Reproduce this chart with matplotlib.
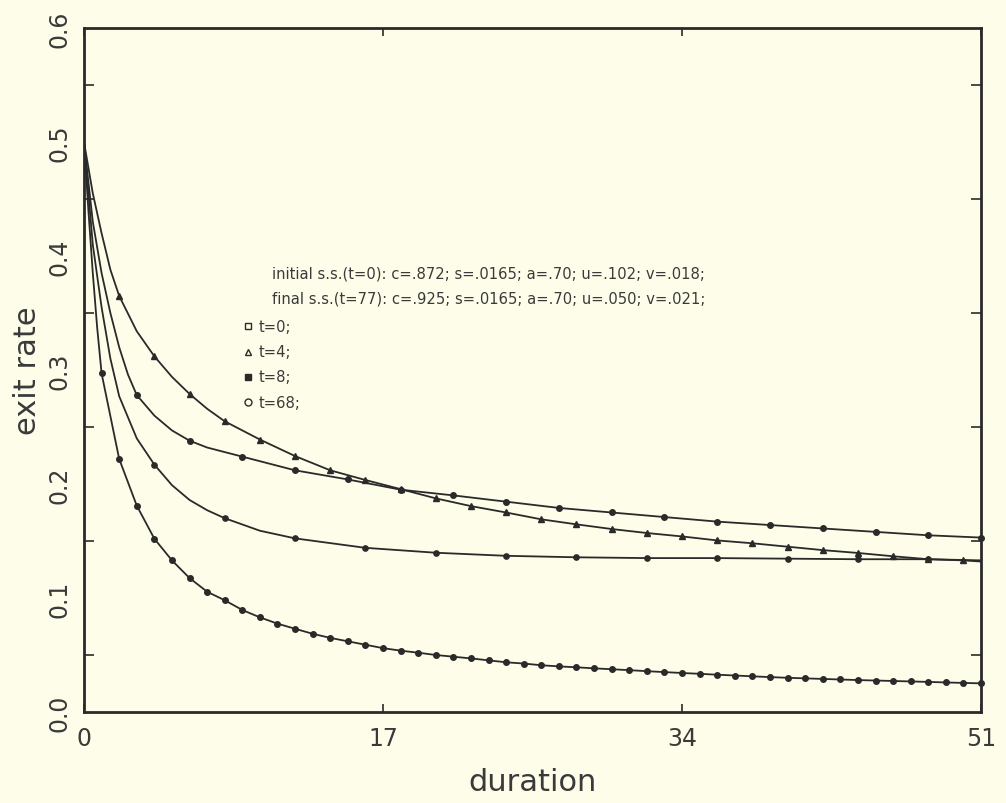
import matplotlib
matplotlib.use("Agg")
import matplotlib.pyplot as plt
from matplotlib.ticker import MultipleLocator, FixedLocator

# ---------------- data ----------------
# curve with triangles (t=4), markers every 2 durations
tri_x = [0, 2, 4, 6, 8, 10, 12, 14, 16, 18, 20, 22, 24, 26, 28, 30, 32, 34, 36,
         38, 40, 42, 44, 46, 48, 50]
tri_y = [0.500, 0.365, 0.312, 0.279, 0.255, 0.239, 0.2245, 0.212, 0.2035, 0.1955,
         0.1874, 0.1806, 0.175, 0.169, 0.1646, 0.1605, 0.157, 0.154, 0.1505,
         0.148, 0.145, 0.142, 0.1395, 0.1366, 0.134, 0.133]
tri_line_x = [0, 0.5, 1, 1.5, 2, 3, 4, 5, 6, 7, 8, 10, 12, 14, 16, 18, 20, 22, 24,
              26, 28, 30, 32, 34, 36, 38, 40, 42, 44, 46, 48, 50, 51]
tri_line_y = [0.500, 0.455, 0.420, 0.388, 0.365, 0.334, 0.312, 0.294, 0.279, 0.266,
              0.255, 0.239, 0.2245, 0.212, 0.2035, 0.1955, 0.1874, 0.1806, 0.175,
              0.169, 0.1646, 0.1605, 0.157, 0.154, 0.1505, 0.148, 0.145, 0.142,
              0.1395, 0.1366, 0.134, 0.133, 0.132]

# curve with markers every 3 durations (t=68)
c68_x = [0, 3, 6, 9, 12, 15, 18, 21, 24, 27, 30, 33, 36, 39, 42, 45, 48, 51]
c68_y = [0.500, 0.278, 0.238, 0.224, 0.212, 0.204, 0.195, 0.190, 0.1845, 0.179,
         0.175, 0.171, 0.167, 0.164, 0.161, 0.158, 0.155, 0.153]
c68_line_x = [0, 0.5, 1, 1.5, 2, 2.5, 3, 4, 5, 6, 7, 8, 9, 12, 15, 18, 21, 24, 27,
              30, 33, 36, 39, 42, 45, 48, 51]
c68_line_y = [0.500, 0.430, 0.385, 0.350, 0.320, 0.296, 0.278, 0.260, 0.247, 0.238,
              0.232, 0.228, 0.224, 0.212, 0.204, 0.195, 0.190, 0.1845, 0.179,
              0.175, 0.171, 0.167, 0.164, 0.161, 0.158, 0.155, 0.153]

# curve with markers every 4 durations (t=8)
c8_x = [0, 4, 8, 12, 16, 20, 24, 28, 32, 36, 40, 44, 48]
c8_y = [0.500, 0.217, 0.170, 0.1523, 0.144, 0.1397, 0.137, 0.1357, 0.135, 0.135,
        0.1345, 0.134, 0.134]
c8_line_x = [0, 0.5, 1, 1.5, 2, 3, 4, 5, 6, 7, 8, 10, 12, 16, 20, 24, 28, 32, 36,
             40, 44, 48, 51]
c8_line_y = [0.500, 0.410, 0.355, 0.310, 0.277, 0.240, 0.217, 0.199, 0.186, 0.177,
             0.170, 0.159, 0.1523, 0.144, 0.1397, 0.137, 0.1357, 0.135, 0.135,
             0.1345, 0.134, 0.134, 0.133]

# dense curve, marker every duration (t=0)
c0_x = list(range(0, 52))
c0_y = [0.500, 0.297, 0.222, 0.181, 0.152, 0.133, 0.1175, 0.1055, 0.098, 0.0895,
        0.083, 0.0775, 0.073, 0.0686, 0.065, 0.062, 0.059, 0.056, 0.0538, 0.052,
        0.050, 0.0485, 0.047, 0.0453, 0.0436, 0.0425, 0.041, 0.0400, 0.0392,
        0.0383, 0.0375, 0.0367, 0.0358, 0.0350, 0.0342, 0.0335, 0.0327, 0.0320,
        0.0313, 0.0306, 0.0300, 0.0295, 0.0290, 0.0285, 0.0280, 0.0276, 0.0272,
        0.0268, 0.0264, 0.0259, 0.0255, 0.0251]
c0_line_x = [0, 0.25, 0.5, 0.75] + c0_x[1:]
c0_line_y = [0.500, 0.440, 0.385, 0.337] + c0_y[1:]

x_ticks = [0, 17, 34, 51]
y_ticks = [0.0, 0.1, 0.2, 0.3, 0.4, 0.5, 0.6]

note_lines = ["initial s.s.(t=0): c=.872; s=.0165; a=.70; u=.102; v=.018;",
              "final s.s.(t=77): c=.925; s=.0165; a=.70; u=.050; v=.021;"]
key_labels = ["t=0;", "t=4;", "t=8;", "t=68;"]

# ---------------- drawing ----------------
bg = "#fdfde9"
ink = "#2a2a2a"
txt = "#3a3a3a"
plt.rcParams["font.family"] = ["DejaVu Sans"]

fig = plt.figure(figsize=(10.06, 8.04), dpi=100, facecolor=bg)
ax = fig.add_axes([0.0835, 0.1132, 0.8917, 0.8507])
ax.set_facecolor(bg)

lw = 1.3
ax.plot(tri_line_x, tri_line_y, color=ink, lw=lw, zorder=2)
ax.plot(c68_line_x, c68_line_y, color=ink, lw=lw, zorder=2)
ax.plot(c8_line_x, c8_line_y, color=ink, lw=lw, zorder=2)
ax.plot(c0_line_x, c0_line_y, color=ink, lw=lw, zorder=2)

ax.plot(tri_x[1:], tri_y[1:], ls="none", marker="^", ms=4.5, color=ink, zorder=3, clip_on=False)
ax.plot(c68_x[1:], c68_y[1:], ls="none", marker="o", ms=4, color=ink, zorder=3, clip_on=False)
ax.plot(c8_x[1:], c8_y[1:], ls="none", marker="o", ms=3.8, color=ink, zorder=3, clip_on=False)
ax.plot(c0_x[1:], c0_y[1:], ls="none", marker="o", ms=4, color=ink, zorder=3, clip_on=False)

ax.set_xlim(0, 51)
ax.set_ylim(0, 0.6)

ax.xaxis.set_major_locator(FixedLocator(x_ticks))
ax.yaxis.set_major_locator(FixedLocator(y_ticks))
ax.yaxis.set_minor_locator(MultipleLocator(0.05))
ax.set_xticklabels([str(v) for v in x_ticks])
ax.set_yticklabels([f"{v:.1f}" for v in y_ticks], rotation=90, va="center")

ax.tick_params(axis="both", which="both", direction="in", colors=ink,
               top=True, right=True, width=1.2)
ax.tick_params(axis="y", which="major", length=0, labelsize=17, pad=9)
ax.tick_params(axis="y", which="minor", length=7)
ax.tick_params(axis="x", which="major", length=6, labelsize=17, pad=10)
ax.tick_params(labelcolor=txt)
for sp in ax.spines.values():
    sp.set_color(ink)
    sp.set_linewidth(2.0)

ax.set_xlabel("duration", fontsize=22, color=txt, labelpad=12)
ax.set_ylabel("exit rate", fontsize=22, color=txt, labelpad=4)

for i, line in enumerate(note_lines):
    ax.text(0.2096, 0.642 - 0.037 * i, line, transform=ax.transAxes,
            fontsize=10.6, color=txt, va="center", ha="left")

key_markers = [("s", "none"), ("^", "none"), ("s", ink), ("o", "none")]
for i, (lab, (mk, fc)) in enumerate(zip(key_labels, key_markers)):
    yy = 0.564 - 0.037 * i
    ax.plot([0.183], [yy], transform=ax.transAxes, marker=mk, ms=5,
            mfc=fc, mec=ink, mew=1.0, ls="none", clip_on=False)
    ax.text(0.195, yy, lab, transform=ax.transAxes, fontsize=10.6,
            color=txt, va="center", ha="left")

fig.savefig("out.png", dpi=100, facecolor=bg)
